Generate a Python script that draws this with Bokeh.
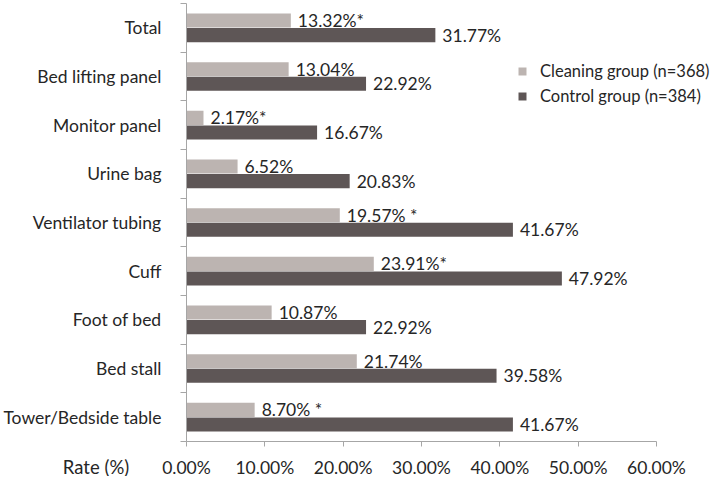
from bokeh.plotting import figure
from bokeh.models import (ColumnDataSource, Range1d, FixedTicker, PrintfTickFormatter,
                          Legend, LegendItem, Label)
from bokeh.embed import file_html
from bokeh.resources import INLINE
from bokeh.core.properties import value

# ---- data ----
categories = ["Total", "Bed lifting panel", "Monitor panel", "Urine bag",
              "Ventilator tubing", "Cuff", "Foot of bed", "Bed stall",
              "Tower/Bedside table"]
cleaning = [13.32, 13.04, 2.17, 6.52, 19.57, 23.91, 10.87, 21.74, 8.70]
control = [31.77, 22.92, 16.67, 20.83, 41.67, 47.92, 22.92, 39.58, 41.67]
significance = ["*", "", "*", "", " *", "*", "", "", " *"]
x_ticks = [0, 10, 20, 30, 40, 50, 60]
series_names = ["Cleaning group (n=368)", "Control group (n=384)"]
x_axis_title = "Rate (%)"

# ---- style ----
FONT = "Lato"
FS = "17.5px"
LEG_FS = "16.5px"
TXT = "#262626"
LIGHT = "#bcb4b1"
DARK = "#5e5656"
AXIS = "#a6a6a6"

W, H = 712, 476
X0_PX, Y0_PX, YTOP_PX = 186, 441, 3      # pixel positions of x=0, y=0, top of axis
PX_X = 470 / 60                           # px per percentage point
n = len(categories)
PX_Y = (Y0_PX - YTOP_PX) / n

centers = [n - 0.5 - i for i in range(n)]
off = 0.15
bar_h = 0.29

src_clean = ColumnDataSource(dict(
    x=cleaning, y=[c + off for c in centers],
    label=[f"{v:.2f}%{s}" for v, s in zip(cleaning, significance)]))
src_ctrl = ColumnDataSource(dict(
    x=control, y=[c - off for c in centers],
    label=[f"{v:.2f}%" for v in control]))

p = figure(width=W, height=H, output_backend="svg", toolbar_location=None,
           x_range=Range1d(-X0_PX / PX_X, (W - X0_PX) / PX_X),
           y_range=Range1d(-(H - Y0_PX) / PX_Y, n + YTOP_PX / PX_Y),
           min_border=0)
p.outline_line_color = None
p.xgrid.visible = False
p.ygrid.visible = False
p.background_fill_color = "white"
p.border_fill_color = "white"

r1 = p.hbar(y="y", right="x", left=0, height=bar_h, source=src_clean,
            fill_color=LIGHT, line_color=None)
r2 = p.hbar(y="y", right="x", left=0, height=bar_h, source=src_ctrl,
            fill_color=DARK, line_color=None)

for src in (src_clean, src_ctrl):
    p.text(x="x", y="y", text="label", source=src, x_offset=7,
           text_baseline="middle", text_align="left",
           text_font=value(FONT), text_font_size=FS, text_color=TXT)

# y axis (drawn at x = 0)
ya = p.yaxis[0]
ya.fixed_location = 0
ya.bounds = (0, n)
ya.ticker = FixedTicker(ticks=centers, minor_ticks=list(range(n + 1)))
ya.major_label_overrides = {c: cat for c, cat in zip(centers, categories)}
ya.major_tick_out = 0
ya.major_tick_in = 0
ya.minor_tick_out = 6
ya.minor_tick_in = 0
ya.major_label_standoff = 19
ya.axis_line_color = AXIS
ya.minor_tick_line_color = AXIS
ya.major_label_text_font = FONT
ya.major_label_text_font_size = FS
ya.major_label_text_color = TXT

# x axis (drawn at y = 0)
xa = p.xaxis[0]
xa.fixed_location = 0
xa.ticker = FixedTicker(ticks=x_ticks)
xa.bounds = (x_ticks[0], x_ticks[-1])
xa.formatter = PrintfTickFormatter(format="%.2f%%")
xa.major_tick_out = 5
xa.major_tick_in = 0
xa.minor_tick_out = 0
xa.minor_tick_in = 0
xa.major_label_standoff = 10
xa.axis_line_color = AXIS
xa.major_tick_line_color = AXIS
xa.major_label_text_font = FONT
xa.major_label_text_font_size = FS
xa.major_label_text_color = TXT

# axis title, to the left of the tick labels
p.add_layout(Label(x=-(X0_PX - 95.5) / PX_X, y=-(466 - Y0_PX) / PX_Y,
                   text=x_axis_title, text_align="center", text_baseline="middle",
                   text_font=FONT, text_font_size="18.5px", text_color=TXT))

legend = Legend(items=[LegendItem(label=series_names[0], renderers=[r1]),
                       LegendItem(label=series_names[1], renderers=[r2])],
                location=(517, 370), orientation="vertical",
                glyph_width=10, glyph_height=10, label_height=21,
                label_standoff=13, spacing=4, padding=0, margin=0,
                border_line_color=None, background_fill_alpha=0,
                label_text_font=FONT, label_text_font_size=LEG_FS,
                label_text_color=TXT)
p.add_layout(legend)

open("out.html", "w").write(file_html(p, INLINE))
